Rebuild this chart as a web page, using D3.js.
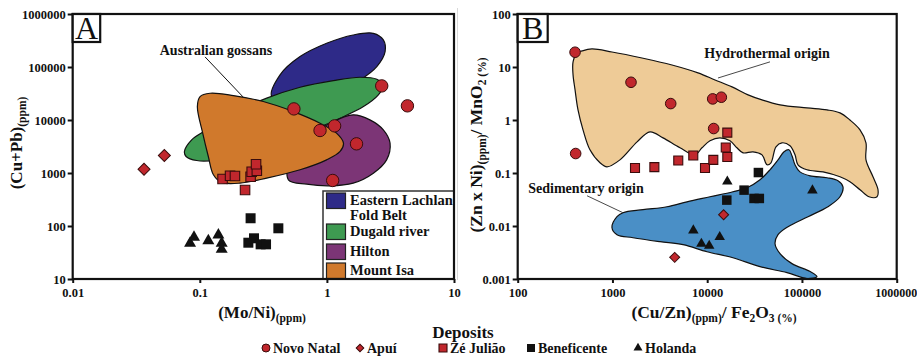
<!DOCTYPE html>
<html><head><meta charset="utf-8">
<script src="https://cdn.jsdelivr.net/npm/d3@7"></script>
<style>
body{margin:0;background:#fff}
svg{display:block}
text{font-family:"Liberation Serif","Times New Roman",serif;fill:#111}
</style>
</head><body>
<svg id="c" width="917" height="357"></svg>
<script>
// ---------- tick values ----------
const xTicksA = [0.01, 0.1, 1, 10];
const yTicksA = [10, 100, 1000, 10000, 100000, 1000000];
const xTicksB = [100, 1000, 10000, 100000, 1000000];
const yTicksB = [0.001, 0.01, 0.1, 1, 10, 100];

// ---------- panel A points: [Mo/Ni, Cu+Pb] ----------
const novoNatalA = [[0.55,16200],[2.7,44000],[4.3,18500],[0.883,6340],[1.15,7750],[1.71,3550],[1.11,723]];
const apuiA = [[0.0364,1180],[0.0526,2140]];
const zeJuliaoA = [[0.151,771],[0.173,889],[0.189,878],[0.227,478],[0.251,851],[0.256,1059],[0.281,1105],[0.277,1460]];
const beneficenteA = [[0.251,140],[0.415,90.5],[0.241,48.4],[0.267,58.6],[0.301,45.1],[0.332,45.1]];
const holandaA = [[0.0838,47.2],[0.09,61.2],[0.1167,52.8],[0.14,67.6],[0.1486,47.2],[0.1486,36.3]];

// ---------- panel B points: [Cu/Zn / Fe2O3, Zn x Ni / MnO2] ----------
const novoNatalB = [[403,19],[1570,5.15],[4120,2.04],[11430,2.5],[14100,2.69],[11700,0.69],[409,0.233]];
const apuiB = [[14900,0.0163],[4540,0.00256]];
const zeJuliaoB = [[1730,0.124],[2770,0.129],[4950,0.172],[7130,0.214],[9480,0.124],[11600,0.177],[16300,0.579],[15700,0.303],[16300,0.2]];
const beneficenteB = [[34700,0.102],[24500,0.0475],[16100,0.0308],[31200,0.0331],[35500,0.0331]];
const holandaB = [[16300,0.069],[129000,0.0469],[7140,0.00826],[8680,0.00463],[10500,0.00425],[13550,0.00618]];

// ---------- field outlines (data units) ----------
const easternLachlan = [[0.368,27700],[0.428,71000],[0.615,157000],[0.995,280000],[1.61,402000],[2.32,432000],[2.78,324000],[2.87,195000],[2.47,102000],[1.82,57000],[1.12,32000],[0.615,20700]];
const dugaldRiver = [[0.0757,2550],[0.0863,4230],[0.113,6520],[0.184,13400],[0.336,25800],[0.615,41500],[1.125,55400],[1.82,64100],[2.47,58700],[2.78,44000],[2.54,29800],[1.94,17900],[1.27,10800],[0.832,7000],[0.454,4230],[0.248,2740],[0.136,1770],[0.0946,1720],[0.078,2050]];
const hilton = [[0.513,1770],[0.736,4880],[1.06,8710],[1.61,12500],[2.18,10070],[2.78,6520],[3.14,3660],[2.95,1770],[2.32,993],[1.61,644],[1.06,574],[0.693,617],[0.498,745]];
const mountIsa = [[0.0957,17900],[0.1005,27700],[0.1205,32000],[0.184,28900],[0.316,22300],[0.545,14400],[0.883,8710],[1.19,5640],[1.35,3660],[1.27,2550],[0.995,1770],[0.615,1150],[0.336,800],[0.207,644],[0.1485,664],[0.128,925],[0.1167,2050],[0.1054,5640]];
const hydrothermal = [[384,12.5],[423,18.4],[477,20.1],[608,21.9],[989,19.2],[2050,14.8],[4250,10.9],[8000,7.73],[12100,5.7],[18300,4.21],[27000,2.98],[37900,2.39],[58700,1.93],[113000,1.69],[184000,1.55],[252000,1.36],[321000,1.0],[410000,0.652],[474000,0.371],[474000,0.177],[562000,0.0849],[635000,0.0483],[620000,0.0356],[510000,0.0356],[410000,0.0483],[321000,0.0682],[252000,0.0849],[167000,0.105],[113000,0.115],[90800,0.143],[84500,0.22],[74800,0.326],[61500,0.371],[53200,0.312],[47100,0.156],[42800,0.143],[37900,0.22],[30400,0.251],[23900,0.24],[20600,0.299],[17400,0.405],[13600,0.46],[10700,0.405],[8810,0.299],[7430,0.22],[5160,0.299],[3420,0.46],[2490,0.598],[1820,0.387],[1200,0.177],[876,0.131],[739,0.156],[579,0.274],[489,0.652],[433,1.55],[403,3.7],[384,7.1]];
const sedimentary = [[989,0.00929],[1117,0.015],[1292,0.0178],[2100,0.0203],[3760,0.0231],[6120,0.0286],[10700,0.0356],[18700,0.0443],[26300,0.0526],[36100,0.0745],[46000,0.115],[55900,0.177],[64700,0.251],[72900,0.274],[78500,0.211],[84500,0.143],[95300,0.105],[122000,0.0885],[184000,0.0813],[240000,0.0714],[271000,0.055],[252000,0.0356],[188000,0.0231],[116000,0.015],[71300,0.00968],[55900,0.00685],[52000,0.00463],[58700,0.00301],[78500,0.00195],[122000,0.00138],[144000,0.00111],[113000,0.00102],[69500,0.00132],[36100,0.00171],[18700,0.00252],[9950,0.00327],[5560,0.00444],[3180,0.00506],[1650,0.00601],[1117,0.00685]];

// ---------- legend labels ----------
const fieldNames = ["Eastern Lachlan", "Dugald river", "Hilton", "Mount Isa"];
const fieldColors = ["#2e2a88", "#3e9a51", "#7c3576", "#d0792c"];
const depositNames = ["Novo Natal", "Apuí", "Zé Julião", "Beneficente", "Holanda"];

// ---------- drawing ----------
const svg = d3.select("#c");
const RED = "#c1272d", REDSTROKE = "#3a0c0c";
const BOLD = "bold";

const A = {l:72.7, r:454, t:14, b:279};
const B = {l:517.7, r:896.7, t:14, b:279};
const xA = d3.scaleLog().domain([0.01,10]).range([A.l,A.r]);
const yA = d3.scaleLog().domain([10,1000000]).range([A.b,A.t]);
const xB = d3.scaleLog().domain([100,1000000]).range([B.l,B.r]);
const yB = d3.scaleLog().domain([0.001,100]).range([B.b,B.t]);

// faint separator
svg.append("line").attr("x1",457.5).attr("x2",457.5).attr("y1",8).attr("y2",280).attr("stroke","#d8d8d8").attr("stroke-width",1);

function shape(g, pts, x, y, fill){
  const line = d3.line().x(d=>x(d[0])).y(d=>y(d[1])).curve(d3.curveCatmullRomClosed.alpha(0.5));
  g.append("path").attr("d", line(pts)).attr("fill", fill).attr("stroke","#111").attr("stroke-width",1.2);
}
function marks(g, pts, x, y, kind, sz){
  const sel = g.append("g").selectAll("path").data(pts).join("path")
    .attr("transform", d=>`translate(${x(d[0])},${y(d[1])})`);
  drawSym(sel, kind, sz);
}
function drawSym(sel, kind, sz){
  if(kind==="circle"){
    sel.attr("d", d3.symbol(d3.symbolCircle, Math.PI*sz*sz)()).attr("fill",RED).attr("stroke",REDSTROKE).attr("stroke-width",1);
  } else if(kind==="diamond"){
    sel.attr("d", d3.symbol(d3.symbolSquare, 2*sz*sz)()).attr("fill",RED).attr("stroke",REDSTROKE).attr("stroke-width",1)
      .attr("transform", function(){ return d3.select(this).attr("transform")+" rotate(45)"; });
  } else if(kind==="rsquare"){
    sel.attr("d", d3.symbol(d3.symbolSquare, sz*sz)()).attr("fill",RED).attr("stroke",REDSTROKE).attr("stroke-width",1.1);
  } else if(kind==="bsquare"){
    sel.attr("d", d3.symbol(d3.symbolSquare, sz*sz)()).attr("fill","#111");
  } else if(kind==="triangle"){
    sel.attr("d", d3.symbol(d3.symbolTriangle, sz*sz*Math.sqrt(3)/4)()).attr("fill","#111");
  }
}
function axes(g, x, y, P, xt, yt){
  const fmt = d=>String(d);
  g.append("g").attr("transform",`translate(0,${P.b})`)
    .call(d3.axisBottom(x).tickValues(xt).tickFormat(fmt).tickSize(4).tickPadding(5))
    .call(s=>{s.select(".domain").remove(); s.selectAll("line").attr("stroke","#111").attr("stroke-width",2);
      s.selectAll("text").attr("font-size",12.5).attr("font-family","Liberation Serif, serif").style("font-weight",BOLD).attr("fill","#111");});
  g.append("g").attr("transform",`translate(${P.l},0)`)
    .call(d3.axisLeft(y).tickValues(yt).tickFormat(fmt).tickSize(5).tickPadding(2))
    .call(s=>{s.select(".domain").remove(); s.selectAll("line").attr("stroke","#111").attr("stroke-width",2);
      s.selectAll("text").attr("font-size",12.5).attr("font-family","Liberation Serif, serif").style("font-weight",BOLD).attr("fill","#111");});
  g.append("rect").attr("x",P.l).attr("y",P.t).attr("width",P.r-P.l).attr("height",P.b-P.t)
    .attr("fill","none").attr("stroke","#111").attr("stroke-width",2.2);
}
function rich(g, parts, size, subSize, attrs){
  const t = g.append("text").style("font-weight",BOLD);
  Object.entries(attrs).forEach(([k,v])=>t.attr(k,v));
  let down = false;
  parts.forEach(p=>{
    const ts = t.append("tspan").text(p[0]).attr("font-size", p[1]?subSize:size);
    if(p[1] && !down){ ts.attr("dy", 4); down = true; }
    else if(!p[1] && down){ ts.attr("dy", -4); down = false; }
  });
  return t;
}
function label(g, x, y, size, txt, anchor){
  return g.append("text").attr("x",x).attr("y",y).attr("font-size",size)
    .attr("text-anchor",anchor||"start").style("font-weight",BOLD).text(txt);
}
function panelLabel(g, P, letter, w){
  g.append("rect").attr("x",P.l).attr("y",P.t).attr("width",w).attr("height",28)
    .attr("fill","#fff").attr("stroke","#111").attr("stroke-width",2.2);
  g.append("text").attr("x",P.l+w/2).attr("y",P.t+25).attr("text-anchor","middle")
    .attr("font-size",32).style("font-weight","normal").text(letter);
}

// ===== Panel A =====
const gA = svg.append("g");
svg.append("clipPath").attr("id","ca").append("rect").attr("x",A.l).attr("y",A.t).attr("width",A.r-A.l).attr("height",A.b-A.t);
const fA = gA.append("g").attr("clip-path","url(#ca)");
shape(fA, easternLachlan, xA, yA, fieldColors[0]);
shape(fA, dugaldRiver, xA, yA, fieldColors[1]);
shape(fA, hilton, xA, yA, fieldColors[2]);
shape(fA, mountIsa, xA, yA, fieldColors[3]);

gA.append("line").attr("x1",xA(0.11)).attr("y1",yA(155000)).attr("x2",xA(0.219)).attr("y2",yA(27200))
  .attr("stroke","#111").attr("stroke-width",1);
label(gA, xA(0.134), yA(168000), 14, "Australian gossans", "middle");

marks(gA, holandaA, xA, yA, "triangle", 12);
marks(gA, beneficenteA, xA, yA, "bsquare", 10);
marks(gA, zeJuliaoA, xA, yA, "rsquare", 9.5);
marks(gA, apuiA, xA, yA, "diamond", 6);
marks(gA, novoNatalA, xA, yA, "circle", 6.2);

const lg = gA.append("g");
lg.append("rect").attr("x",323).attr("y",191).attr("width",A.r-323).attr("height",A.b-191).attr("fill","#fff").attr("stroke","#333").attr("stroke-width",1.5);
const swY = [193, 224, 244, 263];
const txY = [205, 236, 256, 275];
fieldNames.forEach((n,i)=>{
  lg.append("rect").attr("x",326.5).attr("y",swY[i]).attr("width",19).attr("height",15.5).attr("fill",fieldColors[i]).attr("stroke","#222").attr("stroke-width",1.2);
  label(lg, 350, txY[i], 14.5, n);
});
label(lg, 350, 220, 14.5, "Fold Belt");

axes(gA, xA, yA, A, xTicksA, yTicksA);
panelLabel(gA, A, "A", 27.5);

rich(gA, [["(Cu+Pb)",0],["(ppm)",1]], 17, 11.5, {"text-anchor":"middle","transform":"translate(22,143) rotate(-90)"});
rich(gA, [["(Mo/Ni)",0],["(ppm)",1]], 17, 11.5, {"text-anchor":"middle","x":262,"y":318});

// ===== Panel B =====
const gB = svg.append("g");
svg.append("clipPath").attr("id","cb").append("rect").attr("x",B.l).attr("y",B.t).attr("width",B.r-B.l).attr("height",B.b-B.t);
const fB = gB.append("g").attr("clip-path","url(#cb)");
shape(fB, hydrothermal, xB, yB, "#eecb97");
shape(fB, sedimentary, xB, yB, "#4a8fc6");

gB.append("line").attr("x1",xB(46000)).attr("y1",yB(12.5)).attr("x2",xB(13000)).attr("y2",yB(6.2)).attr("stroke","#333").attr("stroke-width",0.9);
label(gB, 767, yB(14.5), 14, "Hydrothermal origin", "middle");
gB.append("line").attr("x1",xB(539)).attr("y1",yB(0.0372)).attr("x2",xB(1292)).attr("y2",yB(0.0178)).attr("stroke","#333").attr("stroke-width",0.9);
label(gB, 586, yB(0.042), 14, "Sedimentary origin", "middle");

marks(gB, holandaB, xB, yB, "triangle", 10.5);
marks(gB, beneficenteB, xB, yB, "bsquare", 9.5);
marks(gB, zeJuliaoB, xB, yB, "rsquare", 9);
marks(gB, apuiB, xB, yB, "diamond", 5);
marks(gB, novoNatalB, xB, yB, "circle", 5.3);

axes(gB, xB, yB, B, xTicksB, yTicksB);
// keep the last x label inside the window
gB.selectAll("g.tick text").filter(d=>d===1000000).attr("dx", -1).attr("font-size", 12);
panelLabel(gB, B, "B", 30);

rich(gB, [["(Zn x Ni)",0],["(ppm)",1],["/ MnO",0],["2",1],[" (%)",1]], 17.5, 11.5, {"text-anchor":"middle","transform":"translate(482,145) rotate(-90)"});
rich(gB, [["(Cu/Zn)",0],["(ppm)",1],["/ Fe",0],["2",1],["O",0],["3 (%)",1]], 17.5, 11.5, {"text-anchor":"middle","x":714,"y":318});

// ===== Deposits legend =====
const dg = svg.append("g");
label(dg, 463, 338, 17, "Deposits", "middle");
const legX = [266, 360, 443, 531, 638];
const legKinds = ["circle","diamond","rsquare","bsquare","triangle"];
const legSz = [4, 3.8, 8, 8, 9];
depositNames.forEach((n,i)=>{
  const p = dg.append("path").attr("transform",`translate(${legX[i]},348)`);
  drawSym(p, legKinds[i], legSz[i]);
  label(dg, legX[i]+7, 353, 14, n);
});
</script>
</body></html>
